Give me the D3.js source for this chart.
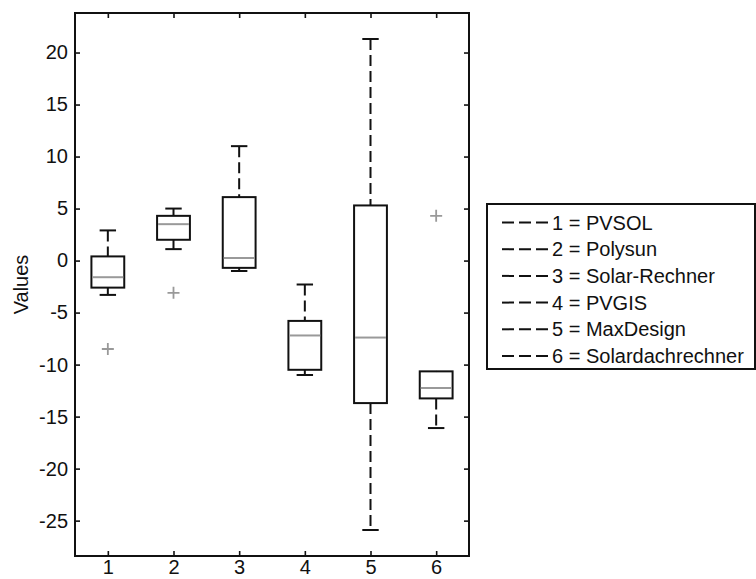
<!DOCTYPE html>
<html>
<head>
<meta charset="utf-8">
<script src="https://cdn.jsdelivr.net/npm/d3@7"></script>
<style>
  body { margin:0; background:#fff; }
  svg { font-family: "Liberation Sans", Arial, sans-serif; }
</style>
</head>
<body>
<svg id="chart" width="756" height="579"></svg>
<script>
// box plot data
var groups = [1, 2, 3, 4, 5, 6]
var tools = ['PVSOL', 'Polysun', 'Solar-Rechner', 'PVGIS', 'MaxDesign', 'Solardachrechner']
var whiskerLow  = [-3.3, 1.1, -1.0, -11.0, -25.9, -16.1]
var q1          = [-2.6, 2.0, -0.7, -10.5, -13.7, -13.25]
var medians     = [-1.6, 3.5, 0.25, -7.2, -7.4, -12.25]
var q3          = [0.4, 4.3, 6.1, -5.8, 5.3, -10.65]
var whiskerHigh = [2.9, 5.0, 11.0, -2.3, 21.3, -10.65]
var outliers    = [[-8.5], [-3.1], [], [], [], [4.3]]
var yTicks = [-25, -20, -15, -10, -5, 0, 5, 10, 15, 20]

var svg = d3.select('#chart')
// plot box edges (avoid the global name "top")
var plotL = 75, plotR = 469, plotT = 13, plotB = 556
var fontSize = 20
var ink = '#111', sw = 2

var x = d3.scaleLinear().domain([0.5, 6.5]).range([plotL, plotR])
var y = d3.scaleLinear().domain([-28.4, 23.8]).range([plotB, plotT])

var data = groups.map(function(g, i){
  return {g:g, lo:whiskerLow[i], q1:q1[i], med:medians[i], q3:q3[i], hi:whiskerHigh[i], out:outliers[i]}
})

// axes (ticks point inwards, mirrored on top and right)
var fmt = function(d){return String(d)}
var axisL = d3.axisLeft(y).tickValues(yTicks).tickSize(-5).tickPadding(7).tickFormat(fmt)
var axisB = d3.axisBottom(x).tickValues(groups).tickSize(-5).tickPadding(4).tickFormat(fmt)
var axisR = d3.axisRight(y).tickValues(yTicks).tickSize(-5).tickFormat('')
var axisT = d3.axisTop(x).tickValues(groups).tickSize(-5).tickFormat('')

function styleAxis(g){
  g.select('.domain').remove()
  g.selectAll('line').attr('stroke', ink).attr('stroke-width', 1.6)
  g.selectAll('text').attr('fill', ink).style('font-size', fontSize + 'px').style('font-family', '"Liberation Sans", Arial, sans-serif')
}

svg.append('g').attr('transform', 'translate(' + plotL + ',0)').call(axisL).call(styleAxis)
svg.append('g').attr('transform', 'translate(0,' + plotB + ')').call(axisB).call(styleAxis)
svg.append('g').attr('transform', 'translate(' + plotR + ',0)').call(axisR).call(styleAxis)
svg.append('g').attr('transform', 'translate(0,' + plotT + ')').call(axisT).call(styleAxis)

svg.append('rect')
  .attr('x', plotL).attr('y', plotT)
  .attr('width', plotR - plotL).attr('height', plotB - plotT)
  .attr('fill', 'none').attr('stroke', ink).attr('stroke-width', sw)

svg.append('text')
  .attr('transform', 'translate(28,' + (plotT + plotB) / 2 + ') rotate(-90)')
  .attr('text-anchor', 'middle')
  .style('font-size', fontSize + 'px')
  .attr('fill', ink)
  .text('Values')

// boxes
var boxW = 0.5, capW = 0.25
var boxes = svg.append('g').selectAll('g.box').data(data).enter().append('g').attr('class', 'box')

// whiskers
boxes.append('line')
  .attr('x1', function(d){return x(d.g)}).attr('x2', function(d){return x(d.g)})
  .attr('y1', function(d){return y(d.hi)}).attr('y2', function(d){return y(d.q3)})
  .attr('stroke', ink).attr('stroke-width', sw).attr('stroke-dasharray', '11,5')
boxes.append('line')
  .attr('x1', function(d){return x(d.g)}).attr('x2', function(d){return x(d.g)})
  .attr('y1', function(d){return y(d.q1)}).attr('y2', function(d){return y(d.lo)})
  .attr('stroke', ink).attr('stroke-width', sw).attr('stroke-dasharray', '11,5')

// caps
boxes.filter(function(d){return d.hi > d.q3}).append('line')
  .attr('x1', function(d){return x(d.g - capW / 2)}).attr('x2', function(d){return x(d.g + capW / 2)})
  .attr('y1', function(d){return y(d.hi)}).attr('y2', function(d){return y(d.hi)})
  .attr('stroke', ink).attr('stroke-width', sw)
boxes.filter(function(d){return d.lo < d.q1}).append('line')
  .attr('x1', function(d){return x(d.g - capW / 2)}).attr('x2', function(d){return x(d.g + capW / 2)})
  .attr('y1', function(d){return y(d.lo)}).attr('y2', function(d){return y(d.lo)})
  .attr('stroke', ink).attr('stroke-width', sw)

boxes.append('rect')
  .attr('x', function(d){return x(d.g - boxW / 2)})
  .attr('width', function(){return x(boxW) - x(0)})
  .attr('y', function(d){return y(d.q3)})
  .attr('height', function(d){return y(d.q1) - y(d.q3)})
  .attr('fill', 'none').attr('stroke', ink).attr('stroke-width', sw)

boxes.append('line')
  .attr('x1', function(d){return x(d.g - boxW / 2) + 1}).attr('x2', function(d){return x(d.g + boxW / 2) - 1})
  .attr('y1', function(d){return y(d.med)}).attr('y2', function(d){return y(d.med)})
  .attr('stroke', '#999').attr('stroke-width', sw)

// outliers as '+'
boxes.each(function(d){
  var g = d3.select(this)
  d.out.forEach(function(v){
    var cx = x(d.g), cy = y(v)
    g.append('path')
      .attr('d', 'M' + (cx - 6) + ',' + cy + 'H' + (cx + 6) + 'M' + cx + ',' + (cy - 6) + 'V' + (cy + 6))
      .attr('stroke', '#999').attr('stroke-width', 1.8).attr('fill', 'none')
  })
})

// legend
var legX = 487, legY = 204, legW = 268, legH = 165, rowH = 26.7
var legend = svg.append('g')
legend.append('rect')
  .attr('x', legX).attr('y', legY).attr('width', legW).attr('height', legH)
  .attr('fill', '#fff').attr('stroke', ink).attr('stroke-width', sw)

var rows = legend.selectAll('g.row').data(tools).enter().append('g').attr('class', 'row')
  .attr('transform', function(d, i){return 'translate(0,' + (legY + 18.5 + i * rowH) + ')'})
rows.append('line')
  .attr('x1', 502).attr('x2', 549).attr('y1', 0).attr('y2', 0)
  .attr('stroke', ink).attr('stroke-width', sw).attr('stroke-dasharray', '12,5')
rows.append('text')
  .attr('x', 552).attr('y', 0).attr('dy', '0.35em')
  .style('font-size', fontSize + 'px').attr('fill', ink)
  .text(function(d, i){return groups[i] + ' = ' + d})
</script>
</body>
</html>
